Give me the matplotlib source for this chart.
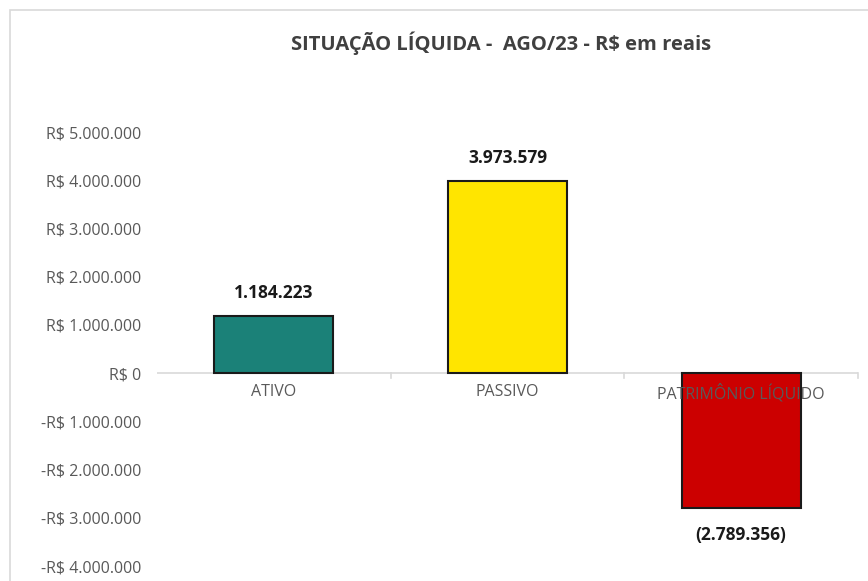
import matplotlib.pyplot as plt
import matplotlib.patches as patches
from matplotlib.ticker import FuncFormatter, FixedLocator

categorias = ['ATIVO', 'PASSIVO', 'PATRIMÔNIO LÍQUIDO']
valores = [1184223, 3973579, -2789356]
rotulos = ['1.184.223', '3.973.579', '(2.789.356)']
cores = ['#1B8178', '#FFE500', '#CC0000']
y_ticks = [-4000000, -3000000, -2000000, -1000000, 0, 1000000, 2000000, 3000000, 4000000, 5000000]

plt.rcParams['font.family'] = ['Open Sans', 'DejaVu Sans']

fig = plt.figure(figsize=(8.68, 5.81), dpi=100)
# moldura do grafico (estilo Excel)
fig.patches.append(patches.Rectangle((10/868, -0.01), 1.0, 1 - 10/581 + 0.01, transform=fig.transFigure,
                                     fill=False, edgecolor='#D9D9D9', linewidth=1.2))

ax = fig.add_axes([157/868, 15/581, (858-157)/868, (566-132)/581])
ax.set_xlim(-0.5, 2.5)
ax.set_ylim(-4000000, 5000000)

x = list(range(len(categorias)))
ax.bar(x, valores, width=0.51, color=cores, edgecolor='#1a1a1a', linewidth=1.5, zorder=3)

for xi, v, r in zip(x, valores, rotulos):
    if v >= 0:
        ax.text(xi, v + 300000, r, ha='center', va='bottom', fontsize=12.5, fontweight='bold', color='#1a1a1a')
    else:
        ax.text(xi, v - 380000, r, ha='center', va='top', fontsize=12.5, fontweight='bold', color='#1a1a1a')

for s in ['top', 'right', 'bottom', 'left']:
    ax.spines[s].set_visible(False)
ax.axhline(0, color='#D9D9D9', linewidth=1.2, zorder=1)

ax.yaxis.set_major_locator(FixedLocator(y_ticks))
def fmt(v, pos):
    s = 'R$ ' + f'{abs(int(v)):,}'.replace(',', '.')
    return '-' + s if v < 0 else s
ax.yaxis.set_major_formatter(FuncFormatter(fmt))
ax.tick_params(axis='y', length=0, labelsize=11.5, labelcolor='#595959', pad=11)
ax.set_xticks([])

for xi, c in zip(x, categorias):
    ax.text(xi, -220000, c, ha='center', va='top', fontsize=11.5, color='#595959', zorder=4)
for b in [0.5, 1.5, 2.5]:
    ax.plot([b, b], [0, -100000], color='#D9D9D9', linewidth=1.2, zorder=1, clip_on=False)

fig.text(0.577, 0.926, 'SITUAÇÃO LÍQUIDA -  AGO/23 - R$ em reais', ha='center', va='center',
         fontsize=14.5, fontweight='bold', color='#404040')

fig.savefig('out.png', dpi=100)
